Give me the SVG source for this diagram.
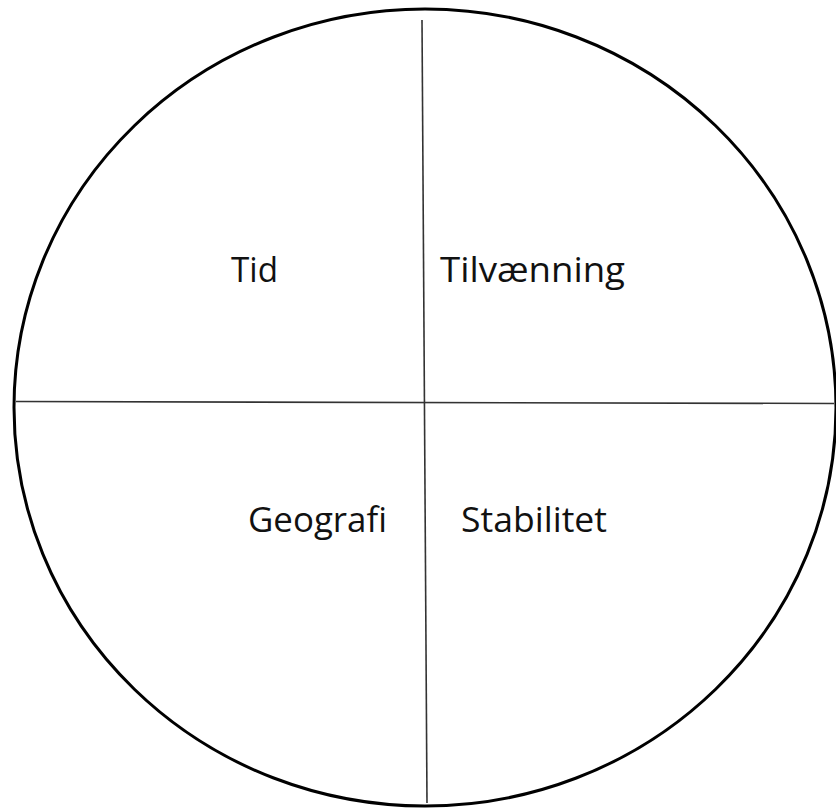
<svg xmlns="http://www.w3.org/2000/svg" width="836" height="810" viewBox="0 0 836 810">
<style>
.lbl{font-family:"Open Sans","Noto Sans",sans-serif;font-size:34px;fill:#111}
.ln{stroke:#333;stroke-width:1.6;fill:none}
</style>
<rect width="836" height="810" fill="#fff"/>
<g id="circle"><ellipse cx="425" cy="407.5" rx="411" ry="398.5" fill="none" stroke="#000" stroke-width="3"/></g>
<g id="connectors">
<line class="ln" x1="422" y1="20" x2="427" y2="803"/>
<line class="ln" x1="16" y1="401.5" x2="834" y2="403.5"/>
</g>
<g id="tid"><text class="lbl" x="231" y="282" textLength="47" lengthAdjust="spacingAndGlyphs">Tid</text></g>
<g id="tilvaenning"><text class="lbl" x="440" y="282" textLength="185" lengthAdjust="spacingAndGlyphs">Tilvænning</text></g>
<g id="geografi"><text class="lbl" x="248" y="532" textLength="139" lengthAdjust="spacingAndGlyphs">Geografi</text></g>
<g id="stabilitet"><text class="lbl" x="461" y="532" textLength="146" lengthAdjust="spacingAndGlyphs">Stabilitet</text></g>
</svg>
